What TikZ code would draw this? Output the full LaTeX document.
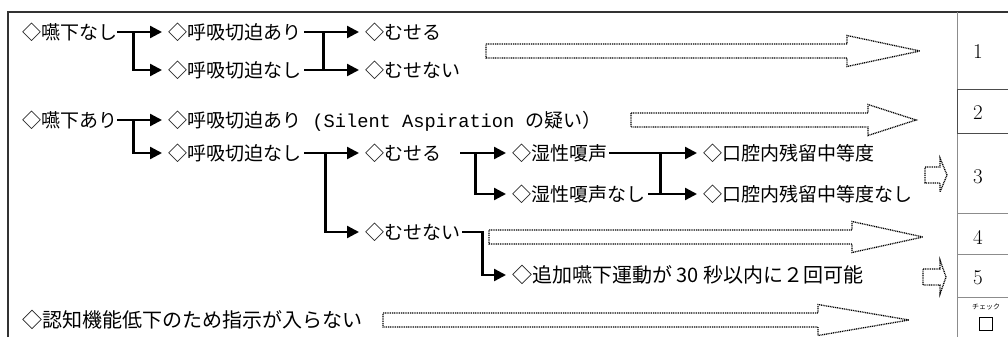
\documentclass[tikz,border=0pt]{standalone}
\usepackage{fontspec}
\newfontfamily\jp{Noto Sans CJK JP}
\newfontfamily\monof{Liberation Mono}
\usetikzlibrary{arrows.meta,calc}
\newcommand\dotblock[4]{%
  \draw[darrow] (#1,{#4-7}) -- (#2,{#4-7}) -- (#2,{#4-15.5}) -- (#3,#4) -- (#2,{#4+15.5}) -- (#2,{#4+7}) -- (#1,{#4+7}) -- cycle;}
\newcommand\smallblock[4]{%
  \draw[darrow] (#1,{#4-8}) -- (#2,{#4-8}) -- (#2,{#4-17}) -- (#3,#4) -- (#2,{#4+17}) -- (#2,{#4+8}) -- (#1,{#4+8}) -- cycle;}
\begin{document}
\begin{tikzpicture}[x=1pt,y=-1pt,
  t/.style={anchor=west,inner sep=0pt,font=\jp\fontsize{19}{22}\selectfont,text height=16.7pt,text depth=2.3pt},
  tb/.style={anchor=west,inner sep=0pt,font=\jp\fontsize{20}{23}\selectfont,text height=17.6pt,text depth=2.4pt},
  flow/.style={line width=2.3pt,-{Triangle[length=12pt,width=12pt]},shorten >=6pt},
  fline/.style={line width=2.3pt},
  darrow/.style={line width=1.3pt,dash pattern=on 1pt off 0.8pt,black},
  num/.style={inner sep=0pt,font=\fontsize{21}{24}\selectfont},
  grid/.style={line width=0.8pt,black!45}
]
\useasboundingbox (0,0) rectangle (1008,337);

% frame
\draw[line width=1.2pt,black!80] (8,337) -- (8,12) -- (1008,12);
\draw[grid] (957,12) -- (957,337);
\draw[line width=0.9pt,black!70] (1010,89) -- (957,89) -- (957,133) -- (1010,133);
\draw[grid] (957,213) -- (1008,213);
\draw[grid] (957,254) -- (1008,254);
\draw[grid] (957,297) -- (1008,297);

% texts
\node[t] (a)   at (22,32)  {◇嚥下なし};
\node[t] (a1)  at (168,32) {◇呼吸切迫あり};
\node[t] (a2)  at (168,70) {◇呼吸切迫なし};
\node[t] (a11) at (365,32) {◇むせる};
\node[t] (a21) at (365,70) {◇むせない};

\node[t] (b)   at (22,120)  {◇嚥下あり};
\node[t] (b1)  at (168,120) {◇呼吸切迫あり{\monof\fontsize{18.7}{22}\selectfont\ (Silent Aspiration }の疑い）};
\node[t] (b2)  at (168,153) {◇呼吸切迫なし};
\node[t] (b21) at (365,153) {◇むせる};
\node[t] (b22) at (365,232) {◇むせない};
\node[t] (c1)  at (512,153) {◇湿性嗄声};
\node[t] (c2)  at (512,194) {◇湿性嗄声なし};
\node[t] (d1)  at (703,153) {◇口腔内残留中等度};
\node[t] (d2)  at (703,194) {◇口腔内残留中等度なし};
\node[tb] (e)  at (512,275) {◇追加嚥下運動が 30 秒以内に２回可能};
\node[tb] (f)  at (22,320)  {◇認知機能低下のため指示が入らない};

% connectors
\draw[flow] (a.east) -- (a1.west);
\draw[flow] ($(a.east)+(16,0)$) |- (a2.west);
\draw[flow] ($(a1.east)+(3,0)$) -- (a11.west);
\draw[flow] ($(a2.east)+(3,0)$) -- (a21.west);
\draw[fline] ($(a1.east)+(22,0)$) -- ($(a2.east)+(22,0)$);

\draw[flow] (b.east) -- (b1.west);
\draw[flow] ($(b.east)+(16,0)$) |- (b2.west);
\draw[flow] ($(b2.east)+(3,0)$) -- (b21.west);
\draw[flow] ($(b2.east)+(24,0)$) |- (b22.west);
\draw[flow] ($(b21.east)+(19,0)$) -- (c1.west);
\draw[flow] ($(b21.east)+(34,0)$) |- (c2.west);
\draw[flow] ($(c1.east)+(2,0)$) -- (d1.west);
\draw[flow] ($(c2.east)+(3,0)$) -- (d2.west);
\draw[fline] ($(c1.east)+(53,0)$) -- ($(c1.east |- c2.east)+(53,0)$);
\draw[flow] ($(b22.east)+(2,0)$) -- ++(20,0) |- (e.west);

% dotted block arrows
\dotblock{486}{847}{920}{51}
\dotblock{631}{868}{916}{120}
\smallblock{925}{940}{947}{175}
\dotblock{489}{852}{923}{237}
\smallblock{923}{940}{946}{277}
\dotblock{383}{818}{909}{320}

% numbers
\node[num] (n1) at (978,52)  {1};
\node[num] (n2) at (978,113) {2};
\node[num] (n3) at (978,177) {3};
\node[num] (n4) at (978,237) {4};
\node[num] (n5) at (978,278) {5};
\node[inner sep=0pt,font=\jp\fontsize{7}{8}\selectfont] (chk) at (986,307) {チェック};
\node[draw,line width=1.5pt,minimum size=13pt,inner sep=0pt] (box) at (986,324) {};
\end{tikzpicture}
\end{document}
